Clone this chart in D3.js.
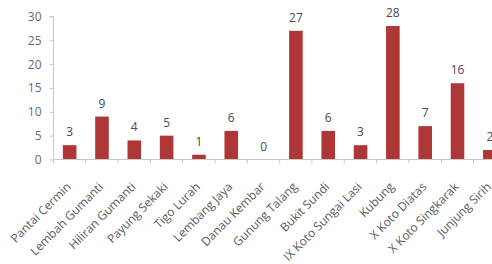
<!DOCTYPE html>
<html><head><meta charset="utf-8">
<script src="https://cdn.jsdelivr.net/npm/d3@7"></script>
<style>body{margin:0;background:#fff;}svg{display:block;font-family:"Open Sans",sans-serif;}</style>
</head><body>
<script>
const categories = ["Pantai Cermin","Lembah Gumanti","Hiliran Gumanti","Payung Sekaki","Tigo Lurah","Lembang Jaya","Danau Kembar","Gunung Talang","Bukit Sundi","IX Koto Sungai Lasi","Kubung","X Koto Diatas","X Koto Singkarak","Junjung Sirih"];
const values = [3,9,4,5,1,6,0,27,6,3,28,7,16,2];
const yTicks = [0,5,10,15,20,25,30];

const W=492,H=264;
const svg=d3.select("body").append("svg").attr("width",W).attr("height",H);
const x=d3.scaleBand().domain(categories).range([53.5,506]).paddingInner(0.58).paddingOuter(0.29);
const y=d3.scaleLinear().domain([0,30]).range([159.5,16.5]);

// y axis
const ya=svg.append("g").attr("transform","translate(53.5,0)")
 .call(d3.axisLeft(y).tickValues(yTicks).tickSize(4).tickPadding(8));
ya.select(".domain").attr("stroke","#c8c8c8").attr("d","M-4,16.5H0V159.5");
ya.selectAll(".tick line").attr("stroke","#c8c8c8");
ya.selectAll(".tick text").attr("fill","#6a6a6a").style("font-size","12px").style("font-family","'Open Sans',sans-serif");

// bars
svg.selectAll("rect.bar").data(values).join("rect")
 .attr("x",(d,i)=>x(categories[i])).attr("width",x.bandwidth())
 .attr("y",d=>y(d)).attr("height",d=>y(0)-y(d)).attr("fill","#ae3636");

// x axis
const xa=svg.append("g").attr("transform","translate(0,159.5)");
xa.append("line").attr("x1",53.5).attr("x2",W).attr("stroke","#c8c8c8");
xa.selectAll("line.t").data(categories).join("line")
 .attr("x1",d=>x(d)-x.bandwidth()*0.7).attr("x2",d=>x(d)-x.bandwidth()*0.7).attr("y1",0).attr("y2",4).attr("stroke","#c8c8c8");
xa.selectAll("text").data(categories).join("text")
 .attr("transform",d=>`translate(${x(d)+x.bandwidth()/2+2},${28}) rotate(-45)`)
 .attr("text-anchor","end").attr("fill","#5a5a5a").style("font-size","12px").text(d=>d);

// value labels
svg.selectAll("text.v").data(values).join("text").attr("class","v")
 .attr("x",(d,i)=>x(categories[i])+x.bandwidth()/2).attr("y",d=>y(d)-9)
 .attr("text-anchor","middle").attr("fill","#4a4a4a").style("font-size","12px").text(d=>d);
</script>
</body></html>
